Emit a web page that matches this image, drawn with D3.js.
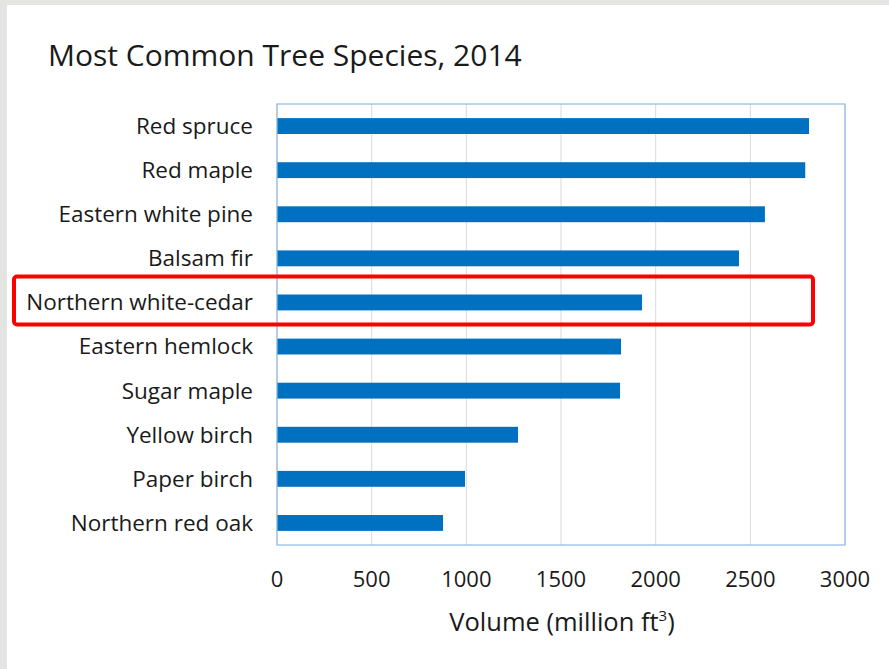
<!DOCTYPE html>
<html>
<head>
<meta charset="utf-8">
<script src="https://cdn.jsdelivr.net/npm/d3@7"></script>
<style>
  body { margin: 0; background: #e4e4e2; }
  svg { display: block; }
  text { font-family: "Open Sans", "Noto Sans", sans-serif; fill: #1a1a1a; }
</style>
</head>
<body>
<div id="chart"></div>
<script>
const species = ["Red spruce", "Red maple", "Eastern white pine", "Balsam fir", "Northern white-cedar",
  "Eastern hemlock", "Sugar maple", "Yellow birch", "Paper birch", "Northern red oak"];
const volumes = [2810, 2790, 2577, 2440, 1928, 1817, 1812, 1273, 993, 877];
const xTicks = [0, 500, 1000, 1500, 2000, 2500, 3000];
const highlighted = "Northern white-cedar";

const width = 889, height = 669;
const margin = { top: 104, right: 44, bottom: 124, left: 277 };

const svg = d3.select("#chart")
  .append("svg")
  .attr("width", width)
  .attr("height", height);

// white slide panel over the grey frame
svg.append("rect")
  .attr("x", 7).attr("y", 5)
  .attr("width", width - 7).attr("height", height - 5)
  .attr("fill", "#fff");

const x = d3.scaleLinear()
  .domain([0, 3000])
  .range([margin.left, width - margin.right]);

const y = d3.scaleBand()
  .domain(species)
  .range([margin.top, height - margin.bottom])
  .paddingInner(0.64)
  .paddingOuter(0.32);

// gridlines
svg.append("g")
  .selectAll("line")
  .data(xTicks)
  .join("line")
  .attr("x1", d => x(d)).attr("x2", d => x(d))
  .attr("y1", margin.top).attr("y2", height - margin.bottom)
  .attr("stroke", "#d9d9d9")
  .attr("stroke-width", 1);

// bars
svg.append("g")
  .selectAll("rect")
  .data(species)
  .join("rect")
  .attr("x", x(0))
  .attr("y", d => y(d))
  .attr("width", (d, i) => x(volumes[i]) - x(0))
  .attr("height", y.bandwidth())
  .attr("fill", "#0070c0");

// plot area border
svg.append("rect")
  .attr("x", margin.left).attr("y", margin.top)
  .attr("width", width - margin.right - margin.left)
  .attr("height", height - margin.bottom - margin.top)
  .attr("fill", "none")
  .attr("stroke", "#8fb9e3")
  .attr("stroke-width", 1.2);

// category labels
svg.append("g")
  .selectAll("text")
  .data(species)
  .join("text")
  .attr("x", 253)
  .attr("y", d => y(d) + y.bandwidth() / 2)
  .attr("dy", "0.35em")
  .attr("text-anchor", "end")
  .style("font-size", "22.5px")
  .text(d => d);

// x tick labels
svg.append("g")
  .selectAll("text")
  .data(xTicks)
  .join("text")
  .attr("x", d => x(d))
  .attr("y", 579)
  .attr("dy", "0.35em")
  .attr("text-anchor", "middle")
  .style("font-size", "22px")
  .text(d => d);

// axis title
const xt = svg.append("text")
  .attr("x", x(1500) + 1)
  .attr("y", 622)
  .attr("dy", "0.35em")
  .attr("text-anchor", "middle")
  .style("font-size", "25.5px");
xt.append("tspan").text("Volume (million ft");
xt.append("tspan").attr("baseline-shift", "super").style("font-size", "15px").text("3");
xt.append("tspan").text(")");

// chart title
svg.append("text")
  .attr("x", 48)
  .attr("y", 66)
  .style("font-size", "30px")
  .text("Most Common Tree Species, 2014");

// highlight box
const hy = y(highlighted) + y.bandwidth() / 2;
svg.append("rect")
  .attr("x", 14).attr("y", hy - 26)
  .attr("width", 799).attr("height", 48)
  .attr("rx", 3)
  .attr("fill", "none")
  .attr("stroke", "#ff0000")
  .attr("stroke-width", 4);
</script>
</body>
</html>
